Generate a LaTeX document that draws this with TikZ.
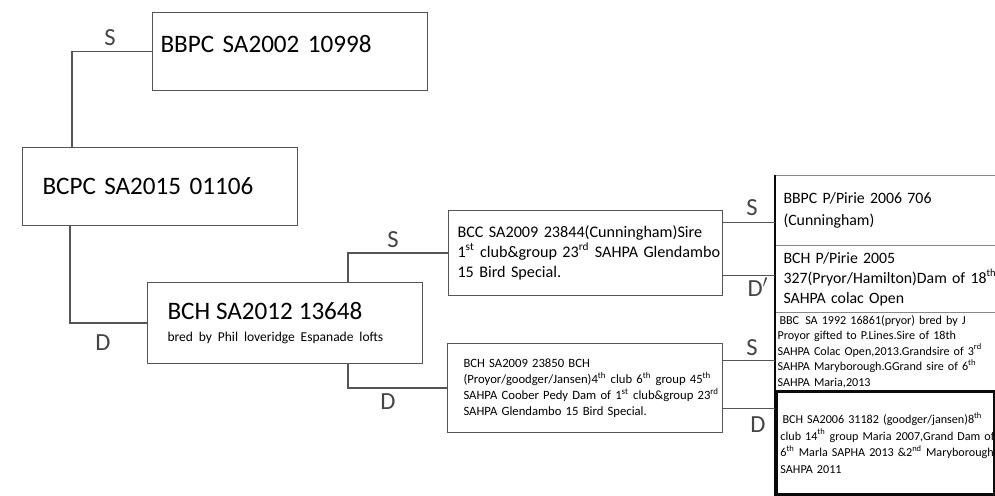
\documentclass[tikz,border=0pt]{standalone}
\usepackage{fontspec}
\setmainfont{Carlito}
\usetikzlibrary{calc,positioning}
\definecolor{pencil}{RGB}{85,85,85}
\definecolor{inkblack}{RGB}{10,10,10}
\tikzset{
  pbox/.style={rectangle,draw=pencil,line width=0.6pt,anchor=north west,
               align=left,inner ysep=0pt},
  rbox/.style={rectangle,draw=pencil!70,line width=0.6pt,anchor=north west,
               align=left,inner ysep=0pt,minimum width=4.9cm},
  link/.style={draw=pencil,line width=0.6pt},
  thickline/.style={draw=inkblack,line width=1.7pt},
  tag/.style={font=\fontsize{14}{14}\selectfont,text=pencil!80!black,inner sep=0pt},
}
\newcommand{\bigtxt}{\fontsize{14.3}{17}\selectfont}
\newcommand{\ordsup}[1]{\textsuperscript{#1}}

\begin{document}
\begin{tikzpicture}[x=0.02cm,y=-0.02cm]
  \path[use as bounding box,fill=white] (0,0) rectangle (995,496);
  \clip (0,0) rectangle (995,496);
  \node[pbox,minimum width=5.5cm,minimum height=1.56cm,text width=5.18cm,
        inner xsep=0.16cm,font=\bigtxt,text depth=9pt] (sireA) at (152,12) {BBPC SA2002 10998};
  \node[pbox,minimum width=5.5cm,minimum height=1.56cm,text width=4.7cm,
        inner xsep=0.4cm,font=\bigtxt] (root) at (22,147) {BCPC SA2015 01106};
  \node[pbox,minimum width=5.5cm,minimum height=1.62cm,text width=4.7cm,
        inner xsep=0.4cm] (dam) at (147,282)
    {{\bigtxt BCH SA2012 13648}\\[1pt]
     {\fontsize{7.7}{10}\selectfont bred by Phil loveridge Espanade lofts}};
  \node[pbox,minimum width=5.48cm,minimum height=1.7cm,text width=5.12cm,
        inner xsep=0.18cm,font=\fontsize{9.2}{11.4}\selectfont] (bcc) at (448,210)
    {\mbox{BCC SA2009 23844(Cunningham)Sire}\\
     \mbox{1\ordsup{st} club\&group 23\ordsup{rd} SAHPA Glendambo}\\
     15 Bird Special.};
  \node[pbox,minimum width=5.5cm,minimum height=1.78cm,text width=4.86cm,
        inner xsep=0.32cm,font=\fontsize{7.2}{9.1}\selectfont] (bch09) at (447,343)
    {\mbox{BCH SA2009 23850 BCH}\\
     \mbox{(Proyor/goodger/Jansen)4\ordsup{th} club 6\ordsup{th} group 45\ordsup{th}}\\
     \mbox{SAHPA Coober Pedy Dam of 1\ordsup{st} club\&group 23\ordsup{rd}}\\
     \mbox{SAHPA Glendambo 15 Bird Special.}};
  \node[rbox,minimum height=1.4cm,text width=4.58cm,inner xsep=0.16cm,
        font=\fontsize{9}{12.5}\selectfont] (ppirie) at (775,175)
    {BBPC P/Pirie 2006 706\\(Cunningham)};
  \node[rbox,minimum height=1.34cm,text width=4.58cm,inner xsep=0.16cm,
        font=\fontsize{9}{11.5}\selectfont] (pp05) at (775,245)
    {BCH P/Pirie 2005\\
     \mbox{327(Pryor/Hamilton)Dam of 18\ordsup{th}}\\
     SAHPA colac Open};
  \node[rbox,minimum height=1.56cm,text width=4.82cm,inner xsep=0.04cm,
        font=\fontsize{6.9}{8.8}\selectfont] (bbc) at (775,312)
    {\,BBC\, SA 1992 16861(pryor) bred by J\\
     \mbox{Proyor gifted to P.Lines.Sire of 18th}\\
     \mbox{SAHPA Colac Open,2013.Grandsire of 3\ordsup{rd}}\\
     \mbox{SAHPA Maryborough.GGrand sire of 6\ordsup{th}}\\
     SAHPA Maria,2013};
  \node[pbox,draw=inkblack,line width=1.7pt,minimum width=4.36cm,minimum height=2.06cm,
        text width=4.2cm,inner xsep=0.08cm,font=\fontsize{6.9}{9.4}\selectfont]
        (bch06) at (775,390)
    {\mbox{\,BCH SA2006 31182 (goodger/jansen)8\ordsup{th}}\\
     \mbox{club 14\ordsup{th} group Maria 2007,Grand Dam of}\\
     \mbox{6\ordsup{th} Marla SAPHA 2013 \&2\ordsup{nd} Maryborough}\\
     SAHPA 2011\\[6pt]};
  \draw[thickline] (ppirie.north west) -- (bch06.south west);

  \draw[link] (root.north west) ++(50,0) |- (sireA.west);
  \draw[link] (root.south west) ++(48,0) |- (dam.west);
  \draw[link] (dam.north east) ++(-75,0) |- (bcc.west);
  \draw[link] (dam.south east) ++(-75,0) |- (bch09.west);
  \foreach \a/\f/\b in {bcc/0.14/ppirie, bcc/0.76/pp05,
                        bch09/0.19/bbc, bch09/0.73/bch06}
    \draw[link] ($(\a.north east)!\f!(\a.south east)$) coordinate (c) -- (c -| \b.west);

  \node[tag] (tagS1) at (110,38) {S};
  \node[tag] (tagD1) at (103,343) {D};
  \node[tag] (tagS2) at (393,240) {S};
  \node[tag] (tagD2) at (388,402) {D};
  \node[tag] (tagS3) at (752,208) {S};
  \node[tag] (tagD3) at (758,287) {D$'$};
  \node[tag] (tagS4) at (752,348) {S};
  \node[tag] (tagD4) at (758,425) {D};
\end{tikzpicture}
\end{document}
